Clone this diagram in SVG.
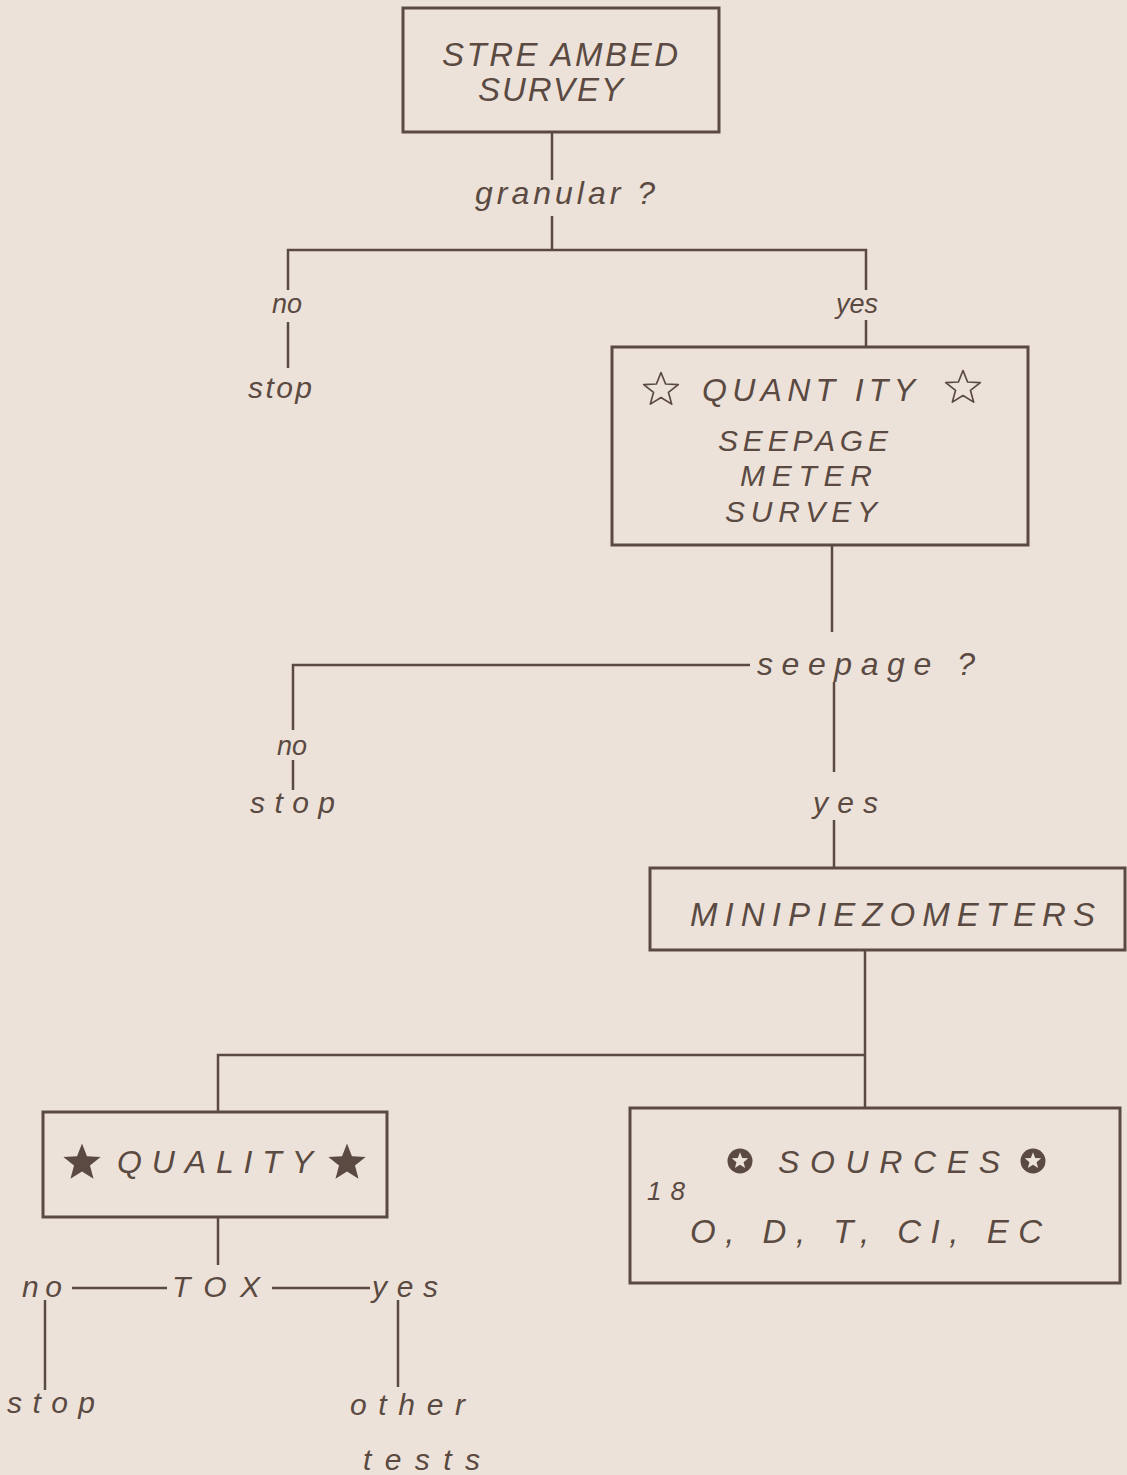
<svg xmlns="http://www.w3.org/2000/svg" xmlns:xlink="http://www.w3.org/1999/xlink" width="1127" height="1475" viewBox="0 0 1127 1475">
<style>
  .bg { fill: #ede2d9; }
  .box { fill: none; stroke: #5a4a42; stroke-width: 3; }
  .ln { fill: none; stroke: #5a4a42; stroke-width: 2.5; }
  .t { font-family: "Liberation Sans", Arial, sans-serif; font-style: italic; fill: #5a4a42; }
  .big { font-size: 33px; }
  .med { font-size: 32px; }
  .sm { font-size: 30px; }
  .xs { font-size: 27px; }
  .star-o { fill: none; stroke: #5a4a42; stroke-width: 1.3; stroke-linejoin: round; }
  .star-f { fill: #5a4a42; }
</style>
<defs>
  <polygon id="star" points="0,-14 3.53,-4.85 13.31,-4.33 5.71,1.85 8.23,11.33 0,6 -8.23,11.33 -5.71,1.85 -13.31,-4.33 -3.53,-4.85"/>
  <g id="cstar">
    <circle r="12.5" fill="#5a4a42"/>
    <use xlink:href="#star" transform="scale(0.62)" fill="#ede2d9"/>
  </g>
</defs>
<rect class="bg" x="0" y="0" width="1127" height="1475"/>

<g id="connectors">
  <line class="ln" x1="552" y1="132" x2="552" y2="180"/>
  <line class="ln" x1="552" y1="216" x2="552" y2="250"/>
  <polyline class="ln" points="288,290 288,250 866,250 866,290"/>
  <line class="ln" x1="288" y1="322" x2="288" y2="368"/>
  <line class="ln" x1="866" y1="320" x2="866" y2="347"/>
  <line class="ln" x1="832" y1="545" x2="832" y2="632"/>
  <polyline class="ln" points="293,730 293,665 750,665"/>
  <line class="ln" x1="293" y1="760" x2="293" y2="790"/>
  <line class="ln" x1="834" y1="682" x2="834" y2="772"/>
  <line class="ln" x1="834" y1="820" x2="834" y2="868"/>
  <line class="ln" x1="865" y1="950" x2="865" y2="1108"/>
  <polyline class="ln" points="218,1112 218,1055 865,1055"/>
  <line class="ln" x1="218" y1="1217" x2="218" y2="1265"/>
  <line class="ln" x1="72" y1="1288" x2="167" y2="1288"/>
  <line class="ln" x1="272" y1="1288" x2="370" y2="1288"/>
  <line class="ln" x1="45" y1="1300" x2="45" y2="1390"/>
  <line class="ln" x1="398" y1="1300" x2="398" y2="1387"/>
</g>

<g id="streambed-survey">
  <rect class="box" x="403" y="8" width="316" height="124"/>
  <text class="t big" x="442" y="66" textLength="236" lengthAdjust="spacing">STRE AMBED</text>
  <text class="t big" x="478" y="101" textLength="145" lengthAdjust="spacing">SURVEY</text>
</g>

<g id="granular">
  <text class="t med" x="475" y="204" textLength="180" lengthAdjust="spacing">granular ?</text>
</g>

<g id="granular-no">
  <text class="t xs" x="272" y="313">no</text>
  <text class="t sm" x="248" y="398" textLength="64" lengthAdjust="spacing">stop</text>
</g>
<g id="granular-yes">
  <text class="t xs" x="836" y="313">yes</text>
</g>

<g id="quantity">
  <rect class="box" x="612" y="347" width="416" height="198"/>
  <use xlink:href="#star" class="star-o" transform="translate(661,390) scale(1.3,1.25)"/>
  <use xlink:href="#star" class="star-o" transform="translate(963,388) scale(1.3,1.25)"/>
  <text class="t med" x="702" y="401" textLength="213" lengthAdjust="spacing">QUANT ITY</text>
  <text class="t sm" x="718" y="451" textLength="170" lengthAdjust="spacing">SEEPAGE</text>
  <text class="t sm" x="740" y="486" textLength="132" lengthAdjust="spacing">METER</text>
  <text class="t sm" x="725" y="522" textLength="152" lengthAdjust="spacing">SURVEY</text>
</g>

<g id="seepage">
  <text class="t med" x="757" y="675" textLength="218" lengthAdjust="spacing">seepage ?</text>
</g>
<g id="seepage-no">
  <text class="t xs" x="277" y="755">no</text>
  <text class="t sm" x="250" y="813" textLength="85" lengthAdjust="spacing">stop</text>
</g>
<g id="seepage-yes">
  <text class="t sm" x="813" y="813" textLength="65" lengthAdjust="spacing">yes</text>
</g>

<g id="minipiezometers">
  <rect class="box" x="650" y="868" width="475" height="82"/>
  <text class="t big" x="690" y="926" textLength="405" lengthAdjust="spacing">MINIPIEZOMETERS</text>
</g>

<g id="quality">
  <rect class="box" x="43" y="1112" width="344" height="105"/>
  <use xlink:href="#star" class="star-f" transform="translate(82,1163) scale(1.4)"/>
  <use xlink:href="#star" class="star-f" transform="translate(347,1163) scale(1.4)"/>
  <text class="t med" x="117" y="1173" textLength="196" lengthAdjust="spacing">QUALITY</text>
</g>

<g id="tox">
  <text class="t sm" x="22" y="1297" textLength="40" lengthAdjust="spacing">no</text>
  <text class="t sm" x="172" y="1297" textLength="88" lengthAdjust="spacing">TOX</text>
  <text class="t sm" x="372" y="1297" textLength="66" lengthAdjust="spacing">yes</text>
</g>
<g id="tox-stop">
  <text class="t sm" x="7" y="1413" textLength="88" lengthAdjust="spacing">stop</text>
</g>
<g id="other-tests">
  <text class="t sm" x="350" y="1415" textLength="115" lengthAdjust="spacing">other</text>
  <text class="t sm" x="363" y="1470" textLength="117" lengthAdjust="spacing">tests</text>
</g>

<g id="sources">
  <rect class="box" x="630" y="1108" width="490" height="175"/>
  <use xlink:href="#cstar" transform="translate(740,1161)"/>
  <use xlink:href="#cstar" transform="translate(1033,1161)"/>
  <text class="t med" x="778" y="1173" textLength="222" lengthAdjust="spacing">SOURCES</text>
  <text class="t" font-size="26" x="647" y="1200" textLength="38" lengthAdjust="spacing">18</text>
  <text class="t big" x="690" y="1243" textLength="352" lengthAdjust="spacing">O, D, T, CI, EC</text>
</g>
</svg>
